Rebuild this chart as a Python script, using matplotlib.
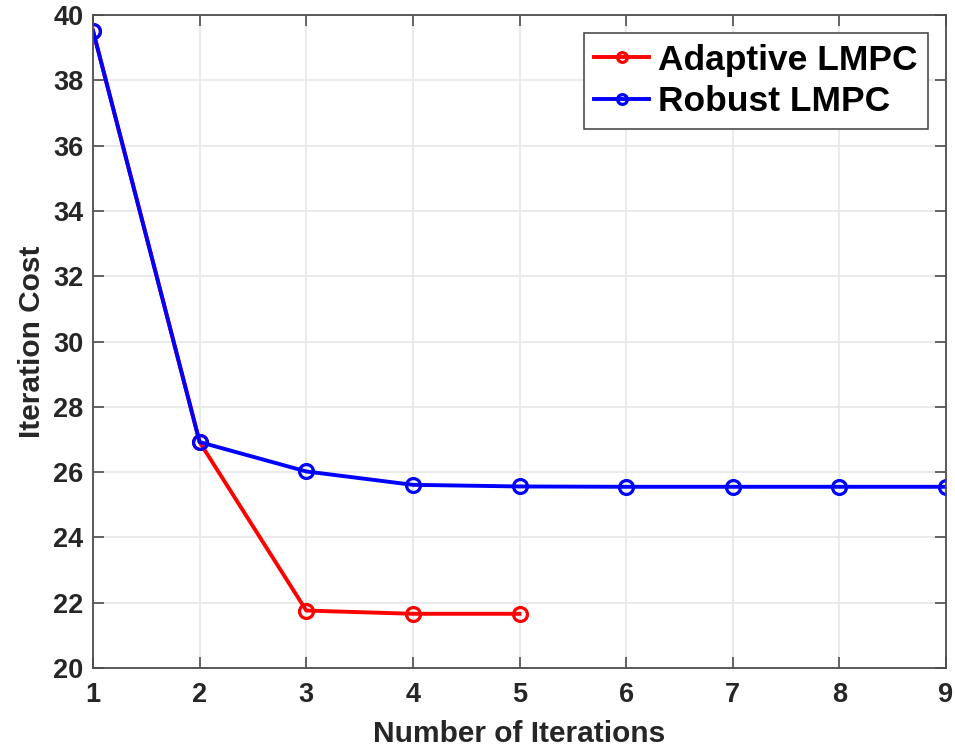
import matplotlib.pyplot as plt
import numpy as np

plt.rcParams['font.family'] = ['Liberation Sans', 'DejaVu Sans']
plt.rcParams['font.weight'] = 'bold'

iters_adaptive = [1, 2, 3, 4, 5]
cost_adaptive = [39.52, 26.92, 21.76, 21.66, 21.66]
iters_robust = [1, 2, 3, 4, 5, 6, 7, 8, 9]
cost_robust = [39.52, 26.92, 26.02, 25.61, 25.56, 25.55, 25.55, 25.55, 25.55]

fig = plt.figure(figsize=(9.55, 7.51), dpi=100)
ax = fig.add_axes([93 / 955, 1 - 668 / 751, (946 - 93) / 955, (668 - 15) / 751])

ax.plot(iters_adaptive, cost_adaptive, color='#ff0000', lw=2.8, marker='o',
        ms=10, mfc='none', mew=2.3, label='Adaptive LMPC')
ax.plot(iters_robust, cost_robust, color='#0000ff', lw=2.8, marker='o',
        ms=10, mfc='none', mew=2.3, label='Robust LMPC')

ax.set_xlim(1, 9)
ax.set_ylim(20, 40)
ax.set_xticks(np.arange(1, 10))
ax.set_yticks(np.arange(20, 41, 2))
ax.grid(True, color='#e6e6e6', lw=1.2)
ax.set_axisbelow(True)
for s in ax.spines.values():
    s.set_color('#4d4d4d')
    s.set_linewidth(1.3)
ax.tick_params(direction='in', length=8, width=1.2, color='#4d4d4d',
               top=True, right=True, labelsize=19.5, labelcolor='#262626')
ax.tick_params(axis='x', pad=10)
ax.tick_params(axis='y', pad=7)
for lab in ax.get_xticklabels() + ax.get_yticklabels():
    lab.set_fontweight('bold')

ax.set_xlabel('Number of Iterations', fontsize=21.5, fontweight='bold', color='#262626', labelpad=9)
ax.set_ylabel('Iteration Cost', fontsize=21.5, fontweight='bold', color='#262626', labelpad=5)

leg = ax.legend(loc='upper right', bbox_to_anchor=(1 - 18 / 853, 1 - 18 / 653),
                borderaxespad=0, prop={'weight': 'bold', 'size': 25.5},
                fancybox=False, framealpha=1, edgecolor='#4d4d4d',
                handlelength=1.55, handletextpad=0.25, markerscale=0.7,
                borderpad=0.3, labelspacing=0.25)
leg.get_frame().set_linewidth(1.2)

fig.savefig('out.png', dpi=100)
